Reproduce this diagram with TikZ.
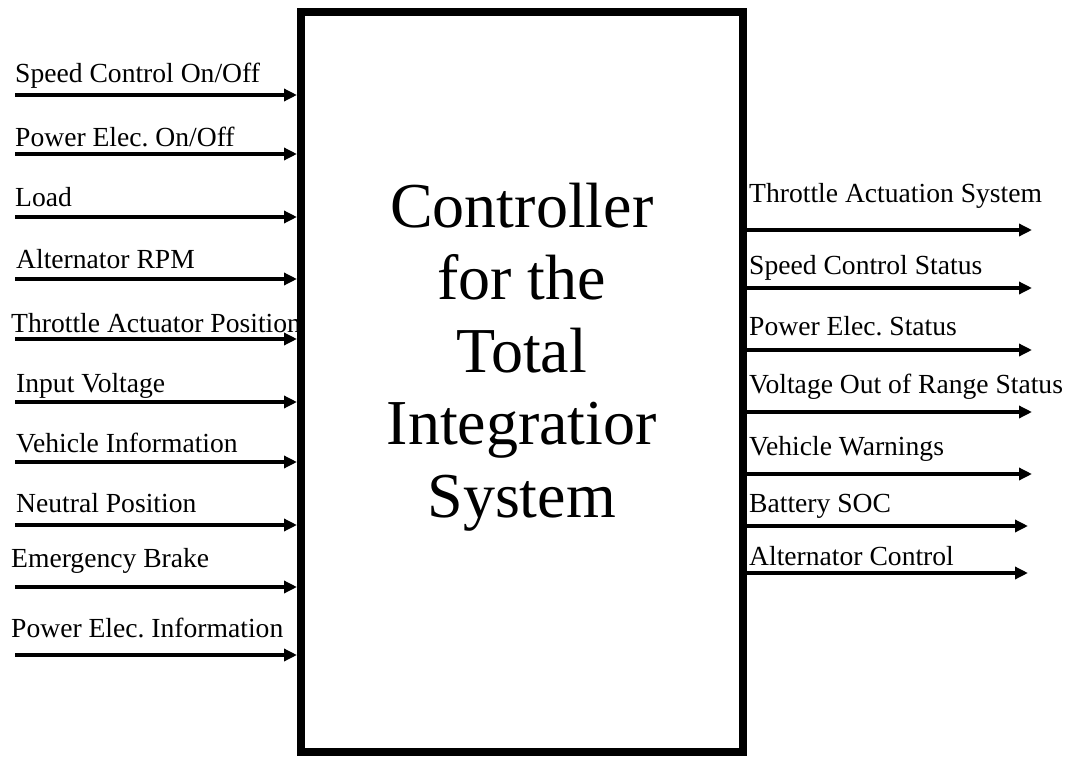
\documentclass[tikz,border=0pt]{standalone}
\usepackage{fontspec}
\setmainfont{Liberation Serif}
\usetikzlibrary{arrows.meta}
\frenchspacing
\begin{document}
\begin{tikzpicture}[x=1pt,y=-1pt,
  lbl/.style={anchor=base west,inner sep=0pt,font=\fontsize{27.6}{32}\selectfont},
  arr/.style={line width=3.5pt,-{Triangle[length=13pt,width=12pt]}},
  ctrlbox/.style={draw,line width=8pt,minimum width=441.5pt,minimum height=739.5pt,inner sep=0pt}]
\useasboundingbox (0,0) rectangle (1077,757);
\node[ctrlbox] (ctrl) at (521.75,382.25) {};
\node[anchor=base,inner sep=0pt,align=center,font=\fontsize{64}{72.5}\selectfont] (title) at (521.75,517)
  {Controller\\for the\\Total\\Integratior\\System};
% inputs
\foreach \n/\lx/\ly/\ay/\t in {
  i1/15/83/95/{Speed Control On/Off},
  i2/15/147/154/{Power Elec. On/Off},
  i3/15/207/217/{Load},
  i4/16/268/279/{Alternator RPM},
  i5/11/332/339/{Throttle Actuator Position},
  i6/16/392/402/{Input Voltage},
  i7/16/452/462/{Vehicle Information},
  i8/16/512/525/{Neutral Position},
  i9/11/567/587/{Emergency Brake},
  i10/11/637/655/{Power Elec. Information}}{
  \node[lbl] (\n) at (\lx,\ly) {\t};
  \coordinate (\n s) at (15,\ay);
  \draw[arr] (\n s) -- (\n s -| ctrl.west);
}
% outputs
\foreach \n/\ly/\ay/\ex/\t in {
  o1/203/230/1032/{Throttle Actuation System},
  o2/274/288/1032/{Speed Control Status},
  o3/335/350/1032/{Power Elec. Status},
  o4/393/412/1032/{Voltage Out of Range Status},
  o5/455/474/1032/{Vehicle Warnings},
  o6/512/526/1028/{Battery SOC},
  o7/565/573/1028/{Alternator Control}}{
  \node[lbl] (\n) at (749,\ly) {\t};
  \coordinate (\n e) at (\ex,\ay);
  \draw[arr] (\n e -| ctrl.east) -- (\n e);
}
\end{tikzpicture}
\end{document}
